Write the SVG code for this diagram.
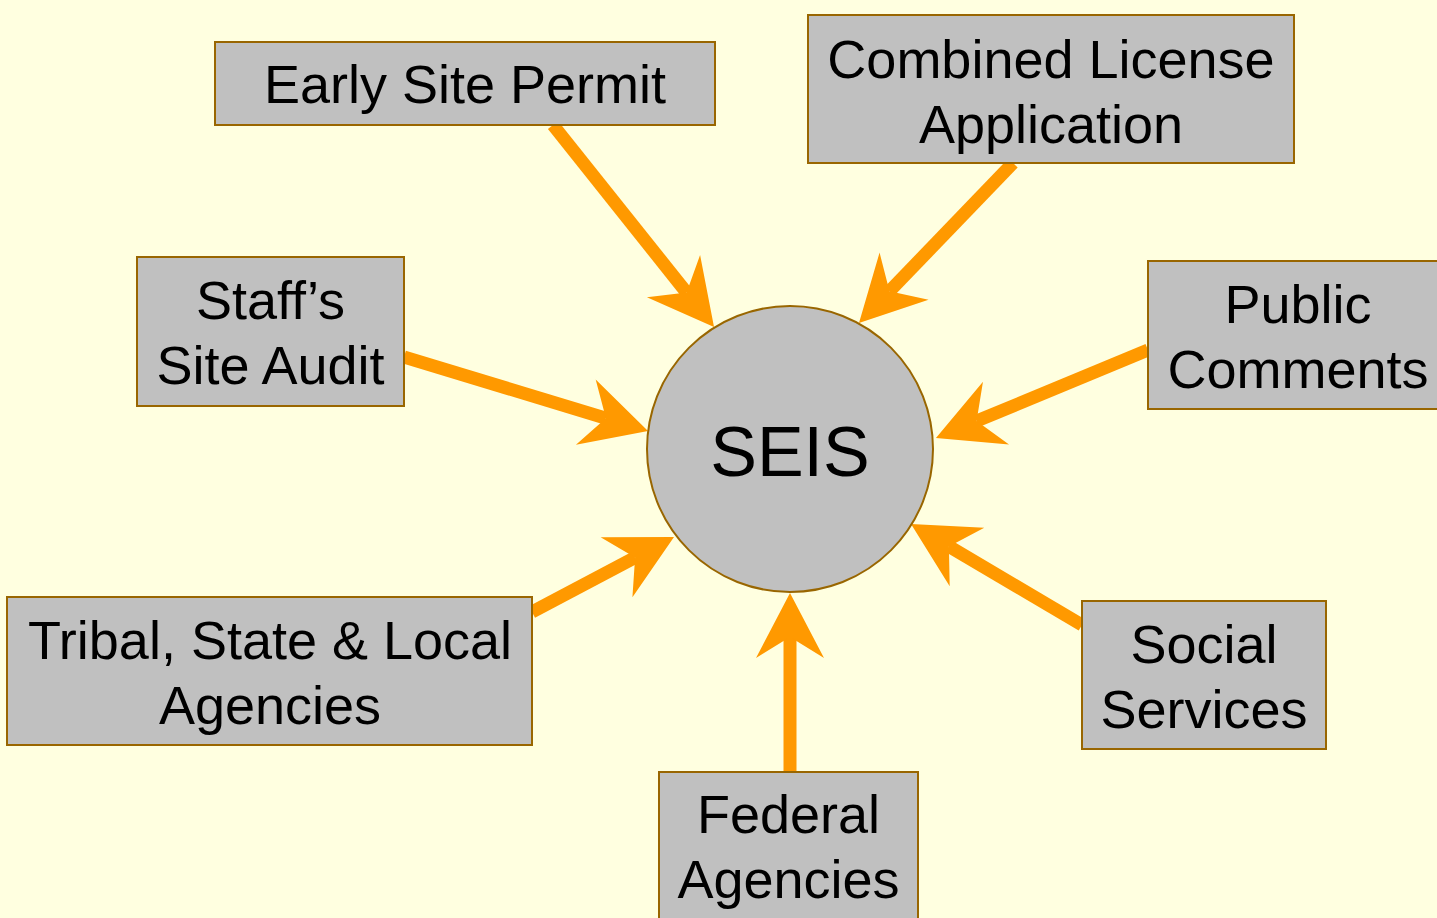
<svg xmlns="http://www.w3.org/2000/svg" width="1437" height="918" viewBox="0 0 1437 918">
<defs>
<style>
.box{fill:#C0C0C0;stroke:#996600;stroke-width:2}
.lbl{font-family:"Liberation Sans",Arial,sans-serif;font-size:54px;fill:#000;text-anchor:middle}
.arr{stroke:#FF9900;stroke-width:13;fill:none;marker-end:url(#ah)}
</style>
<marker id="ah" markerUnits="userSpaceOnUse" viewBox="-25 -40 75 80" markerWidth="75" markerHeight="80" refX="0" refY="0" orient="auto" overflow="visible">
<path d="M44,0 L-21,-34 L0,0 L-21,34 Z" fill="#FF9900"/>
</marker>
</defs>
<rect width="1437" height="918" fill="#FFFFE0"/>
<g id="connectors">
<line class="arr" x1="553" y1="125" x2="686.6" y2="292.6"/>
<line class="arr" x1="1013" y1="163" x2="889.5" y2="291.3"/>
<line class="arr" x1="404" y1="357" x2="605.9" y2="418.2"/>
<line class="arr" x1="1148" y1="350" x2="976.6" y2="421.1"/>
<line class="arr" x1="532" y1="612" x2="635.1" y2="557.5"/>
<line class="arr" x1="1082" y1="625" x2="948.9" y2="546.4"/>
<line class="arr" x1="790" y1="772" x2="790" y2="637"/>
</g>
<g id="seis">
<circle class="box" cx="790" cy="449" r="143"/>
<text class="lbl" x="790" y="476" style="font-size:70px">SEIS</text>
</g>
<g id="early-site-permit">
<rect class="box" x="215" y="42" width="500" height="83"/>
<text class="lbl" x="465" y="103">Early Site Permit</text>
</g>
<g id="combined-license">
<rect class="box" x="808" y="15" width="486" height="148"/>
<text class="lbl" x="1051" y="78">Combined License</text>
<text class="lbl" x="1051" y="143">Application</text>
</g>
<g id="staff-audit">
<rect class="box" x="137" y="257" width="267" height="149"/>
<text class="lbl" x="270.5" y="319">Staff’s</text>
<text class="lbl" x="270.5" y="384">Site Audit</text>
</g>
<g id="public-comments">
<rect class="box" x="1148" y="261" width="295" height="148"/>
<text class="lbl" x="1298" y="323">Public</text>
<text class="lbl" x="1298" y="388">Comments</text>
</g>
<g id="tribal-agencies">
<rect class="box" x="7" y="597" width="525" height="148"/>
<text class="lbl" x="270" y="659">Tribal, State &amp; Local</text>
<text class="lbl" x="270" y="724">Agencies</text>
</g>
<g id="federal-agencies">
<rect class="box" x="659" y="772" width="259" height="150"/>
<text class="lbl" x="788.5" y="833">Federal</text>
<text class="lbl" x="788.5" y="898">Agencies</text>
</g>
<g id="social-services">
<rect class="box" x="1082" y="601" width="244" height="148"/>
<text class="lbl" x="1204" y="663">Social</text>
<text class="lbl" x="1204" y="728">Services</text>
</g>
</svg>
